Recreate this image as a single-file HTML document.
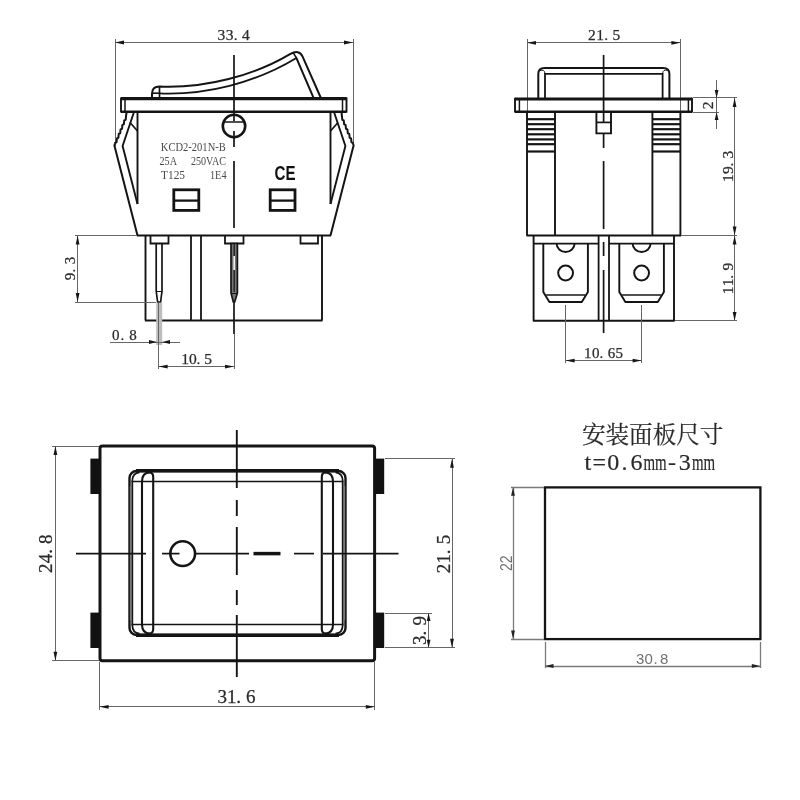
<!DOCTYPE html>
<html lang="zh"><head><meta charset="utf-8"><title>KCD2-201N-B</title>
<style>
html,body{margin:0;padding:0;background:#fff;}
body{width:800px;height:800px;overflow:hidden;}
svg{display:block;filter:blur(0.4px);}
svg line, svg path, svg rect, svg circle{stroke-linecap:butt;}
</style></head><body>
<svg width="800" height="800" viewBox="0 0 800 800">
<rect x="0" y="0" width="800" height="800" fill="#ffffff"/>
<g id="tl">
<line x1="115.5" y1="39" x2="115.5" y2="146" stroke="#666666" stroke-width="1.0" />
<line x1="353.5" y1="39" x2="353.5" y2="146" stroke="#666666" stroke-width="1.0" />
<line x1="115" y1="42.5" x2="353" y2="42.5" stroke="#666666" stroke-width="1.0" />
<polygon points="115,42.5 124,40.6 124,44.4" fill="#161616"/>
<polygon points="353,42.5 344,40.6 344,44.4" fill="#161616"/>
<text x="217.5 225.7 233.7 242.1" y="40" font-family='"Liberation Serif","Noto Serif CJK SC",serif' font-size="15.5" fill="#2a2a2a" stroke="#2a2a2a" stroke-width="0.25">33.4</text>
<line x1="121" y1="98.6" x2="346.5" y2="98.6" stroke="#141414" stroke-width="3.1" />
<line x1="121" y1="111.8" x2="346.5" y2="111.8" stroke="#141414" stroke-width="2.4" />
<line x1="121" y1="97.4" x2="121" y2="112.6" stroke="#141414" stroke-width="1.9" />
<line x1="346.5" y1="97.4" x2="346.5" y2="112.6" stroke="#141414" stroke-width="1.9" />
<line x1="125" y1="99" x2="125" y2="112" stroke="#141414" stroke-width="1.5" />
<line x1="342.5" y1="99" x2="342.5" y2="112" stroke="#141414" stroke-width="1.5" />
<path d="M152,98 L152,94 Q152,86.6 159.5,86.6 C205,88.6 255,75.2 290,54.2 Q299.2,49 302.6,56.6 L320.9,98" stroke="#141414" stroke-width="2.0" fill="none" />
<path d="M159.5,93.4 C205,95.2 255,83.2 296.4,58 L313.6,98" stroke="#141414" stroke-width="1.9" fill="none" />
<path d="M293.2,52.6 L296.4,58" stroke="#141414" stroke-width="1.5" fill="none" />
<path d="M159.5,86.6 L159.5,98" stroke="#141414" stroke-width="1.7" fill="none" />
<line x1="152.3" y1="93.2" x2="159.5" y2="93.2" stroke="#141414" stroke-width="1.6" />
<line x1="234" y1="55" x2="234" y2="112" stroke="#141414" stroke-width="1.7" />
<line x1="234" y1="112" x2="234" y2="121" stroke="#141414" stroke-width="1.7" />
<line x1="234" y1="131" x2="234" y2="147" stroke="#141414" stroke-width="1.7" />
<line x1="234" y1="161" x2="234" y2="228" stroke="#141414" stroke-width="1.7" />
<circle cx="234" cy="126" r="11.2" stroke="#141414" stroke-width="2.6" fill="none"/>
<line x1="223.5" y1="122" x2="244.5" y2="122" stroke="#141414" stroke-width="1.5" />
<line x1="137.5" y1="112" x2="137.5" y2="204" stroke="#141414" stroke-width="1.9" />
<line x1="330.5" y1="112" x2="330.5" y2="204" stroke="#141414" stroke-width="1.9" />
<line x1="137" y1="235.5" x2="331" y2="235.5" stroke="#141414" stroke-width="2.2" />
<path d="M126.6,112 L126,116.5 L126.0,116.5 L125.72,119.74 L124.26,120.37 L124.17,121.0 L123.89,124.24 L122.43,124.87 L122.33,125.5 L122.06,128.74 L120.59,129.37 L120.5,130.0 L120.22,133.24 L118.76,133.87 L118.67,134.5 L118.39,137.74 L116.93,138.37 L116.83,139.0 L116.56,142.24 L115.09,142.87 L115,143.5 L114.4,145.6 L137.5,235.5" stroke="#141414" stroke-width="2.0" fill="none" stroke-linejoin="round"/>
<path d="M134,112 L122.6,146 L137.5,204" stroke="#141414" stroke-width="1.9" fill="none" />
<line x1="130" y1="122.5" x2="137.5" y2="131" stroke="#141414" stroke-width="1.7" />
<path d="M341.4,112 L342,116.5 L342.0,116.5 L342.27,119.74 L343.74,120.37 L343.83,121.0 L344.11,124.24 L345.57,124.87 L345.67,125.5 L345.94,128.74 L347.41,129.37 L347.5,130.0 L347.77,133.24 L349.24,133.87 L349.33,134.5 L349.61,137.74 L351.07,138.37 L351.17,139.0 L351.44,142.24 L352.91,142.87 L353,143.5 L353.6,145.6 L330.5,235.5" stroke="#141414" stroke-width="2.0" fill="none" stroke-linejoin="round"/>
<path d="M334,112 L345.4,146 L330.5,204" stroke="#141414" stroke-width="1.9" fill="none" />
<line x1="338" y1="122.5" x2="330.5" y2="131" stroke="#141414" stroke-width="1.7" />
<text x="160.8" y="150.8" font-family='"Liberation Serif","Noto Serif CJK SC",serif' font-size="12.5" text-anchor="start" fill="#4a4a4a" font-weight="normal" textLength="65" lengthAdjust="spacingAndGlyphs" >KCD2-201N-B</text>
<text x="159.5" y="165" font-family='"Liberation Serif","Noto Serif CJK SC",serif' font-size="12.5" text-anchor="start" fill="#4a4a4a" font-weight="normal" textLength="17.5" lengthAdjust="spacingAndGlyphs" >25A</text>
<text x="191" y="165" font-family='"Liberation Serif","Noto Serif CJK SC",serif' font-size="12.5" text-anchor="start" fill="#4a4a4a" font-weight="normal" textLength="35" lengthAdjust="spacingAndGlyphs" >250VAC</text>
<text x="161" y="179" font-family='"Liberation Serif","Noto Serif CJK SC",serif' font-size="12.5" text-anchor="start" fill="#4a4a4a" font-weight="normal" textLength="24" lengthAdjust="spacingAndGlyphs" >T125</text>
<text x="210" y="179" font-family='"Liberation Serif","Noto Serif CJK SC",serif' font-size="12.5" text-anchor="start" fill="#4a4a4a" font-weight="normal" textLength="16.5" lengthAdjust="spacingAndGlyphs" >1E4</text>
<text x="274.5" y="180" font-family='"Liberation Sans",sans-serif' font-size="20.5" text-anchor="start" fill="#111" font-weight="bold" textLength="21" lengthAdjust="spacingAndGlyphs" >CE</text>
<rect x="173.8" y="189.8" width="25.0" height="20.6" stroke="#141414" stroke-width="2.8" fill="none" />
<line x1="173.8" y1="200.6" x2="198.8" y2="200.6" stroke="#141414" stroke-width="2.3" />
<rect x="270.2" y="189.8" width="24.8" height="20.6" stroke="#141414" stroke-width="2.8" fill="none" />
<line x1="270.2" y1="200.6" x2="295" y2="200.6" stroke="#141414" stroke-width="2.3" />
<line x1="145.5" y1="235.5" x2="145.5" y2="320.5" stroke="#141414" stroke-width="1.9" />
<line x1="322" y1="235.5" x2="322" y2="320.5" stroke="#141414" stroke-width="1.9" />
<line x1="145" y1="320.5" x2="322.5" y2="320.5" stroke="#141414" stroke-width="1.9" />
<line x1="191" y1="235.5" x2="191" y2="320.5" stroke="#141414" stroke-width="1.8" />
<line x1="201" y1="235.5" x2="201" y2="320.5" stroke="#141414" stroke-width="1.8" />
<path d="M150.5,235.5 V243.5 H168.5 V235.5" stroke="#141414" stroke-width="1.8" fill="none" />
<path d="M225,235.5 V243.5 H243.5 V235.5" stroke="#141414" stroke-width="1.8" fill="none" />
<path d="M300.5,235.5 V243.5 H318 V235.5" stroke="#141414" stroke-width="1.8" fill="none" />
<path d="M156.2,243.5 V291 L157.6,302 H160.6 L162,291 V243.5" stroke="#141414" stroke-width="1.7" fill="none" />
<line x1="156.2" y1="291.5" x2="162" y2="291.5" stroke="#141414" stroke-width="1.0" />
<path d="M231,243.5 V293 L233.3,302 H234.7 L237.4,293 V243.5 Z" stroke="#141414" stroke-width="1.7" fill="#777" />
<line x1="234.2" y1="244" x2="234.2" y2="256" stroke="#222" stroke-width="1.4" />
<line x1="234.2" y1="256" x2="234.2" y2="270" stroke="#eee" stroke-width="1.6" />
<line x1="234.2" y1="270" x2="234.2" y2="292" stroke="#222" stroke-width="1.4" />
<line x1="231" y1="293.5" x2="237.4" y2="293.5" stroke="#141414" stroke-width="1.0" />
<line x1="234" y1="302" x2="234" y2="334" stroke="#141414" stroke-width="1.7" />
<line x1="234.5" y1="334" x2="234.5" y2="369" stroke="#666666" stroke-width="1.0" />
<line x1="75" y1="235.5" x2="137" y2="235.5" stroke="#666666" stroke-width="1.0" />
<line x1="75" y1="302.5" x2="156" y2="302.5" stroke="#666666" stroke-width="1.0" />
<line x1="77.5" y1="235.5" x2="77.5" y2="302" stroke="#666666" stroke-width="1.0" />
<polygon points="77.6,235.5 75.69999999999999,244.5 79.5,244.5" fill="#161616"/>
<polygon points="77.6,302 75.69999999999999,293 79.5,293" fill="#161616"/>
<text x="62.75 70.55 78.75" y="268.5" font-family='"Liberation Serif","Noto Serif CJK SC",serif' font-size="15" fill="#2a2a2a" stroke="#2a2a2a" stroke-width="0.25" transform="rotate(-90 74.5 268.5)">9.3</text>
<rect x="156.2" y="303" width="6.0" height="42" stroke="none" stroke-width="0" fill="#bdbdbd" />
<line x1="158.5" y1="303" x2="158.5" y2="369" stroke="#666666" stroke-width="1.0" />
<line x1="110" y1="342.5" x2="180" y2="342.5" stroke="#666666" stroke-width="1.0" />
<polygon points="157,342 149,340.1 149,343.9" fill="#161616"/>
<polygon points="162,342 170,340.1 170,343.9" fill="#161616"/>
<text x="112.0 120.4 129.2" y="340" font-family='"Liberation Serif","Noto Serif CJK SC",serif' font-size="15" fill="#2a2a2a" stroke="#2a2a2a" stroke-width="0.25">0.8</text>
<line x1="158.6" y1="366.5" x2="234" y2="366.5" stroke="#666666" stroke-width="1.0" />
<polygon points="158.6,366.6 167.6,364.70000000000005 167.6,368.5" fill="#161616"/>
<polygon points="234,366.6 225,364.70000000000005 225,368.5" fill="#161616"/>
<text x="181.2 188.9 196.4 204.3" y="363.6" font-family='"Liberation Serif","Noto Serif CJK SC",serif' font-size="15.5" fill="#2a2a2a" stroke="#2a2a2a" stroke-width="0.25">10.5</text>
</g>
<g id="tr">
<line x1="527.5" y1="39" x2="527.5" y2="112" stroke="#666666" stroke-width="1.0" />
<line x1="680.5" y1="39" x2="680.5" y2="112" stroke="#666666" stroke-width="1.0" />
<line x1="527" y1="42.5" x2="680.4" y2="42.5" stroke="#666666" stroke-width="1.0" />
<polygon points="527,42.8 536,40.9 536,44.699999999999996" fill="#161616"/>
<polygon points="680.4,42.8 671.4,40.9 671.4,44.699999999999996" fill="#161616"/>
<text x="588.0 596.2 604.2 612.6" y="40" font-family='"Liberation Serif","Noto Serif CJK SC",serif' font-size="15.5" fill="#2a2a2a" stroke="#2a2a2a" stroke-width="0.25">21.5</text>
<path d="M538.3,98 V74 Q538.3,68 544.5,68 H663 Q669.4,68 669.4,74 V98" stroke="#141414" stroke-width="2.0" fill="none" />
<path d="M545,98 V73.9 H662.6 V98" stroke="#141414" stroke-width="1.8" fill="none" />
<path d="M545,73.6 Q544.5,69 540,70.5" stroke="#141414" stroke-width="1.0" fill="none" />
<path d="M662.6,73.6 Q663,69 667.5,70.5" stroke="#141414" stroke-width="1.0" fill="none" />
<line x1="515" y1="99" x2="692" y2="99" stroke="#141414" stroke-width="3.2" />
<line x1="515" y1="111.8" x2="692" y2="111.8" stroke="#141414" stroke-width="2.4" />
<line x1="515" y1="97.8" x2="515" y2="112.6" stroke="#141414" stroke-width="1.9" />
<line x1="692" y1="97.8" x2="692" y2="112.6" stroke="#141414" stroke-width="1.9" />
<line x1="519.4" y1="99" x2="519.4" y2="112" stroke="#141414" stroke-width="1.5" />
<line x1="688.4" y1="99" x2="688.4" y2="112" stroke="#141414" stroke-width="1.5" />
<line x1="527" y1="112" x2="527" y2="235.5" stroke="#141414" stroke-width="1.9" />
<line x1="555" y1="112" x2="555" y2="235.5" stroke="#141414" stroke-width="1.9" />
<line x1="527" y1="119.2" x2="555" y2="119.2" stroke="#141414" stroke-width="2.2" />
<line x1="527" y1="124.2" x2="555" y2="124.2" stroke="#141414" stroke-width="2.2" />
<line x1="527" y1="129.2" x2="555" y2="129.2" stroke="#141414" stroke-width="2.2" />
<line x1="527" y1="134.3" x2="555" y2="134.3" stroke="#141414" stroke-width="2.2" />
<line x1="527" y1="139.4" x2="555" y2="139.4" stroke="#141414" stroke-width="2.2" />
<line x1="527" y1="144.2" x2="555" y2="144.2" stroke="#141414" stroke-width="2.2" />
<line x1="527" y1="151.5" x2="555" y2="151.5" stroke="#141414" stroke-width="2.2" />
<line x1="652.4" y1="112" x2="652.4" y2="235.5" stroke="#141414" stroke-width="1.9" />
<line x1="680.4" y1="112" x2="680.4" y2="235.5" stroke="#141414" stroke-width="1.9" />
<line x1="652.4" y1="119.2" x2="680.4" y2="119.2" stroke="#141414" stroke-width="2.2" />
<line x1="652.4" y1="124.2" x2="680.4" y2="124.2" stroke="#141414" stroke-width="2.2" />
<line x1="652.4" y1="129.2" x2="680.4" y2="129.2" stroke="#141414" stroke-width="2.2" />
<line x1="652.4" y1="134.3" x2="680.4" y2="134.3" stroke="#141414" stroke-width="2.2" />
<line x1="652.4" y1="139.4" x2="680.4" y2="139.4" stroke="#141414" stroke-width="2.2" />
<line x1="652.4" y1="144.2" x2="680.4" y2="144.2" stroke="#141414" stroke-width="2.2" />
<line x1="652.4" y1="151.5" x2="680.4" y2="151.5" stroke="#141414" stroke-width="2.2" />
<line x1="526.4" y1="235.5" x2="681" y2="235.5" stroke="#141414" stroke-width="2.2" />
<path d="M596.4,112 V133.4 H611 V112" stroke="#141414" stroke-width="1.9" fill="none" />
<line x1="596.4" y1="122.4" x2="611" y2="122.4" stroke="#141414" stroke-width="1.7" />
<line x1="603.6" y1="55" x2="603.6" y2="122" stroke="#141414" stroke-width="1.7" />
<line x1="603.6" y1="134" x2="603.6" y2="148" stroke="#141414" stroke-width="1.7" />
<line x1="603.6" y1="161" x2="603.6" y2="229" stroke="#141414" stroke-width="1.7" />
<line x1="603.6" y1="242" x2="603.6" y2="256" stroke="#141414" stroke-width="1.7" />
<line x1="603.6" y1="270" x2="603.6" y2="333" stroke="#141414" stroke-width="1.7" />
<line x1="533.6" y1="235.5" x2="533.6" y2="321" stroke="#141414" stroke-width="1.9" />
<line x1="674" y1="235.5" x2="674" y2="321" stroke="#141414" stroke-width="1.9" />
<line x1="533" y1="320.8" x2="674.6" y2="320.8" stroke="#141414" stroke-width="2.0" />
<line x1="533.6" y1="243.6" x2="598.6" y2="243.6" stroke="#141414" stroke-width="1.8" />
<line x1="609" y1="243.6" x2="674" y2="243.6" stroke="#141414" stroke-width="1.8" />
<line x1="598.6" y1="235.5" x2="598.6" y2="321" stroke="#141414" stroke-width="1.8" />
<line x1="609" y1="235.5" x2="609" y2="321" stroke="#141414" stroke-width="1.8" />
<path d="M543.3000000000001,243.6 V292 L549.4,302 H581.8000000000001 L587.9,292 V243.6" stroke="#141414" stroke-width="1.9" fill="none" stroke-linejoin="round"/>
<line x1="546.1" y1="295" x2="585.1" y2="295" stroke="#141414" stroke-width="1.7" />
<path d="M556.6,243.6 A9,8.4 0 0 0 574.6,243.6" stroke="#141414" stroke-width="1.9" fill="none" />
<circle cx="565.6" cy="273" r="7.4" stroke="#141414" stroke-width="2.0" fill="none"/>
<line x1="565.5" y1="305" x2="565.5" y2="363" stroke="#666666" stroke-width="1.0" />
<path d="M619.3000000000001,243.6 V292 L625.4,302 H657.8000000000001 L663.9,292 V243.6" stroke="#141414" stroke-width="1.9" fill="none" stroke-linejoin="round"/>
<line x1="622.1" y1="295" x2="661.1" y2="295" stroke="#141414" stroke-width="1.7" />
<path d="M632.6,243.6 A9,8.4 0 0 0 650.6,243.6" stroke="#141414" stroke-width="1.9" fill="none" />
<circle cx="641.6" cy="273" r="7.4" stroke="#141414" stroke-width="2.0" fill="none"/>
<line x1="641.5" y1="305" x2="641.5" y2="363" stroke="#666666" stroke-width="1.0" />
<line x1="565.6" y1="360.5" x2="641.6" y2="360.5" stroke="#666666" stroke-width="1.0" />
<polygon points="565.6,360.6 574.6,358.70000000000005 574.6,362.5" fill="#161616"/>
<polygon points="641.6,360.6 632.6,358.70000000000005 632.6,362.5" fill="#161616"/>
<text x="584.0 591.9 599.6 607.7 615.6" y="358" font-family='"Liberation Serif","Noto Serif CJK SC",serif' font-size="15" fill="#2a2a2a" stroke="#2a2a2a" stroke-width="0.25">10.65</text>
<line x1="693" y1="97.5" x2="737" y2="97.5" stroke="#666666" stroke-width="1.0" />
<line x1="693" y1="112.5" x2="719" y2="112.5" stroke="#666666" stroke-width="1.0" />
<line x1="716.5" y1="80" x2="716.5" y2="129" stroke="#666666" stroke-width="1.0" />
<polygon points="716.6,98 714.7,90 718.5,90" fill="#161616"/>
<polygon points="716.6,112 714.7,120 718.5,120" fill="#161616"/>
<text x="709.52" y="105.4" font-family='"Liberation Serif","Noto Serif CJK SC",serif' font-size="15.5" fill="#2a2a2a" stroke="#2a2a2a" stroke-width="0.25" transform="rotate(-90 713.4 105.4)">2</text>
<line x1="734.5" y1="98" x2="734.5" y2="321" stroke="#666666" stroke-width="1.0" />
<polygon points="734.6,98 732.7,107 736.5,107" fill="#161616"/>
<polygon points="734.6,235.5 732.7,226.5 736.5,226.5" fill="#161616"/>
<polygon points="734.6,235.5 732.7,244.5 736.5,244.5" fill="#161616"/>
<polygon points="734.6,321 732.7,312 736.5,312" fill="#161616"/>
<line x1="681" y1="235.5" x2="737" y2="235.5" stroke="#666666" stroke-width="1.0" />
<line x1="675" y1="320.5" x2="737" y2="320.5" stroke="#666666" stroke-width="1.0" />
<text x="717.42 725.22 732.82 740.82" y="166.3" font-family='"Liberation Serif","Noto Serif CJK SC",serif' font-size="15.5" fill="#2a2a2a" stroke="#2a2a2a" stroke-width="0.25" transform="rotate(-90 733 166.3)">19.3</text>
<text x="717.27 725.17 732.87 740.98" y="278.5" font-family='"Liberation Serif","Noto Serif CJK SC",serif' font-size="15.5" fill="#2a2a2a" stroke="#2a2a2a" stroke-width="0.25" transform="rotate(-90 733 278.5)">11.9</text>
</g>
<g id="bl">
<rect x="100" y="446" width="274.6" height="214.7" stroke="#141414" stroke-width="3.0" fill="none" rx="2.5" ry="2.5"/>
<rect x="90.4" y="458.6" width="9.6" height="35.4" stroke="none" stroke-width="0" fill="#111" />
<rect x="90.4" y="612.6" width="9.6" height="35.4" stroke="none" stroke-width="0" fill="#111" />
<rect x="374.6" y="458.6" width="9.6" height="35.4" stroke="none" stroke-width="0" fill="#111" />
<rect x="374.6" y="612.6" width="9.6" height="35.4" stroke="none" stroke-width="0" fill="#111" />
<rect x="129.5" y="471" width="216.0" height="164" stroke="#141414" stroke-width="2.4" fill="none" rx="7" ry="7"/>
<line x1="136" y1="470.8" x2="339" y2="470.8" stroke="#141414" stroke-width="3.5" />
<line x1="136" y1="635.2" x2="339" y2="635.2" stroke="#141414" stroke-width="3.5" />
<line x1="130.5" y1="486.0" x2="130.5" y2="620.0" stroke="#777" stroke-width="1.3" />
<path d="M132.3,553.0 L132.3,481.0 Q132.3,473.0 139.5,472.4" stroke="#141414" stroke-width="1.8" fill="none" />
<path d="M142.0,553.0 L142.0,481.5 Q142.0,472.6 150.0,472.4" stroke="#141414" stroke-width="2.1" fill="none" />
<path d="M153.2,553.0 L153.2,477.0 Q153.2,472.8 149.6,472.4" stroke="#141414" stroke-width="2.1" fill="none" />
<path d="M131.6,481.5 L237.5,481.5" stroke="#141414" stroke-width="1.7" fill="none" />
<path d="M132.3,553.0 L132.3,625.0 Q132.3,633.0 139.5,633.6" stroke="#141414" stroke-width="1.8" fill="none" />
<path d="M142.0,553.0 L142.0,624.5 Q142.0,633.4 150.0,633.6" stroke="#141414" stroke-width="2.1" fill="none" />
<path d="M153.2,553.0 L153.2,629.0 Q153.2,633.2 149.6,633.6" stroke="#141414" stroke-width="2.1" fill="none" />
<path d="M131.6,624.5 L237.5,624.5" stroke="#141414" stroke-width="1.7" fill="none" />
<line x1="344.5" y1="486.0" x2="344.5" y2="620.0" stroke="#777" stroke-width="1.3" />
<path d="M342.7,553.0 L342.7,481.0 Q342.7,473.0 335.5,472.4" stroke="#141414" stroke-width="1.8" fill="none" />
<path d="M333.0,553.0 L333.0,481.5 Q333.0,472.6 325.0,472.4" stroke="#141414" stroke-width="2.1" fill="none" />
<path d="M321.8,553.0 L321.8,477.0 Q321.8,472.8 325.4,472.4" stroke="#141414" stroke-width="2.1" fill="none" />
<path d="M343.4,481.5 L237.5,481.5" stroke="#141414" stroke-width="1.7" fill="none" />
<path d="M342.7,553.0 L342.7,625.0 Q342.7,633.0 335.5,633.6" stroke="#141414" stroke-width="1.8" fill="none" />
<path d="M333.0,553.0 L333.0,624.5 Q333.0,633.4 325.0,633.6" stroke="#141414" stroke-width="2.1" fill="none" />
<path d="M321.8,553.0 L321.8,629.0 Q321.8,633.2 325.4,633.6" stroke="#141414" stroke-width="2.1" fill="none" />
<path d="M343.4,624.5 L237.5,624.5" stroke="#141414" stroke-width="1.7" fill="none" />
<line x1="236.8" y1="430" x2="236.8" y2="488" stroke="#141414" stroke-width="1.9" />
<line x1="236.8" y1="500" x2="236.8" y2="516" stroke="#141414" stroke-width="1.9" />
<line x1="236.8" y1="527" x2="236.8" y2="575" stroke="#141414" stroke-width="1.9" />
<line x1="236.8" y1="590" x2="236.8" y2="605" stroke="#141414" stroke-width="1.9" />
<line x1="236.8" y1="615" x2="236.8" y2="677" stroke="#141414" stroke-width="1.9" />
<line x1="76" y1="553.6" x2="146" y2="553.6" stroke="#141414" stroke-width="1.7" />
<line x1="162" y1="553.6" x2="179.5" y2="553.6" stroke="#141414" stroke-width="1.7" />
<line x1="195" y1="553.6" x2="249" y2="553.6" stroke="#141414" stroke-width="1.7" />
<line x1="253.5" y1="553.6" x2="280.5" y2="553.6" stroke="#141414" stroke-width="3.5" />
<line x1="294" y1="553.6" x2="314" y2="553.6" stroke="#141414" stroke-width="1.7" />
<line x1="323" y1="553.6" x2="398.5" y2="553.6" stroke="#141414" stroke-width="1.7" />
<circle cx="182.7" cy="553.6" r="12.4" stroke="#141414" stroke-width="2.6" fill="none"/>
<line x1="52" y1="446.5" x2="99" y2="446.5" stroke="#666666" stroke-width="1.0" />
<line x1="52" y1="660.5" x2="99" y2="660.5" stroke="#666666" stroke-width="1.0" />
<line x1="55.5" y1="446" x2="55.5" y2="660.7" stroke="#666666" stroke-width="1.0" />
<polygon points="55.4,446 53.5,455 57.3,455" fill="#161616"/>
<polygon points="55.4,660.7 53.5,651.7 57.3,651.7" fill="#161616"/>
<text x="33.2 42.9 52.4 62.3" y="553.7" font-family='"Liberation Serif","Noto Serif CJK SC",serif' font-size="19" fill="#2a2a2a" stroke="#2a2a2a" stroke-width="0.25" transform="rotate(-90 52.5 553.7)">24.8</text>
<line x1="99.5" y1="662" x2="99.5" y2="710" stroke="#666666" stroke-width="1.0" />
<line x1="374.5" y1="662" x2="374.5" y2="710" stroke="#666666" stroke-width="1.0" />
<line x1="99.6" y1="706.5" x2="374.8" y2="706.5" stroke="#666666" stroke-width="1.0" />
<polygon points="99.6,706.8 108.6,704.9 108.6,708.6999999999999" fill="#161616"/>
<polygon points="374.8,706.8 365.8,704.9 365.8,708.6999999999999" fill="#161616"/>
<text x="217.5 227.0 236.3 246.0" y="703" font-family='"Liberation Serif","Noto Serif CJK SC",serif' font-size="19" fill="#2a2a2a" stroke="#2a2a2a" stroke-width="0.25">31.6</text>
<line x1="385" y1="458.5" x2="455" y2="458.5" stroke="#666666" stroke-width="1.0" />
<line x1="385" y1="647.5" x2="455" y2="647.5" stroke="#666666" stroke-width="1.0" />
<line x1="452.5" y1="458.8" x2="452.5" y2="647.8" stroke="#666666" stroke-width="1.0" />
<polygon points="452,458.8 450.1,467.8 453.9,467.8" fill="#161616"/>
<polygon points="452,647.8 450.1,638.8 453.9,638.8" fill="#161616"/>
<text x="430.35 439.95 449.35 459.15" y="554" font-family='"Liberation Serif","Noto Serif CJK SC",serif' font-size="19" fill="#2a2a2a" stroke="#2a2a2a" stroke-width="0.25" transform="rotate(-90 449.5 554)">21.5</text>
<line x1="385" y1="613.5" x2="432" y2="613.5" stroke="#666666" stroke-width="1.0" />
<line x1="428.5" y1="613" x2="428.5" y2="647.8" stroke="#666666" stroke-width="1.0" />
<polygon points="428.6,613 426.70000000000005,621 430.5,621" fill="#161616"/>
<polygon points="428.6,647.8 426.70000000000005,639.8 430.5,639.8" fill="#161616"/>
<text x="411.45 421.05 431.05" y="630.5" font-family='"Liberation Serif","Noto Serif CJK SC",serif' font-size="19" fill="#2a2a2a" stroke="#2a2a2a" stroke-width="0.25" transform="rotate(-90 426 630.5)">3.9</text>
</g>
<g id="br">
<text x="652.7" y="443" font-family='"Liberation Serif","Noto Serif CJK SC",serif' font-size="23.6" text-anchor="middle" fill="#2a2a2a" font-weight="normal" textLength="141.5" lengthAdjust="spacing" stroke="#2a2a2a" stroke-width="0.2">安装面板尺寸</text>
<text y="470" font-family='"Liberation Serif",serif' font-size="24" fill="#2a2a2a" stroke="#2a2a2a" stroke-width="0.2" x="584.6 592.4 607.2 621.6 630.4">t=0.6</text>
<text x="643.4" y="470" font-family='"Liberation Serif",serif' font-size="24" fill="#2a2a2a" stroke="#2a2a2a" stroke-width="0.2" textLength="23.2" lengthAdjust="spacingAndGlyphs">mm</text>
<text y="470" font-family='"Liberation Serif",serif' font-size="24" fill="#2a2a2a" stroke="#2a2a2a" stroke-width="0.2" x="668 678.8">-3</text>
<text x="692" y="470" font-family='"Liberation Serif",serif' font-size="24" fill="#2a2a2a" stroke="#2a2a2a" stroke-width="0.2" textLength="23.2" lengthAdjust="spacingAndGlyphs">mm</text>
<rect x="545" y="487.4" width="215.4" height="151.7" stroke="#141414" stroke-width="2.3" fill="none" />
<line x1="511" y1="487.5" x2="544" y2="487.5" stroke="#7a7a7a" stroke-width="1.3" />
<line x1="511" y1="639.5" x2="544" y2="639.5" stroke="#7a7a7a" stroke-width="1.3" />
<line x1="513.5" y1="487.2" x2="513.5" y2="639.1" stroke="#7a7a7a" stroke-width="1.3" />
<polygon points="513,487.2 511.1,495.7 514.9,495.7" fill="#222"/>
<polygon points="513,639.1 511.1,630.6 514.9,630.6" fill="#222"/>
<text x="504.25" y="563.3" font-family='"Liberation Sans",sans-serif' font-size="16" fill="#707070" textLength="15.5" lengthAdjust="spacingAndGlyphs" transform="rotate(-90 512 563.3)">22</text>
<line x1="545.5" y1="642" x2="545.5" y2="668" stroke="#7a7a7a" stroke-width="1.3" />
<line x1="760.5" y1="642" x2="760.5" y2="668" stroke="#7a7a7a" stroke-width="1.3" />
<line x1="545" y1="666.5" x2="760.3" y2="666.5" stroke="#7a7a7a" stroke-width="1.3" />
<polygon points="545,666 553.5,664.1 553.5,667.9" fill="#222"/>
<polygon points="760.3,666 751.8,664.1 751.8,667.9" fill="#222"/>
<text x="636 644.4 653.6 660" y="664.2" font-family='"Liberation Sans",sans-serif' font-size="15" fill="#707070">30.8</text>
</g>
</svg>
</body></html>
